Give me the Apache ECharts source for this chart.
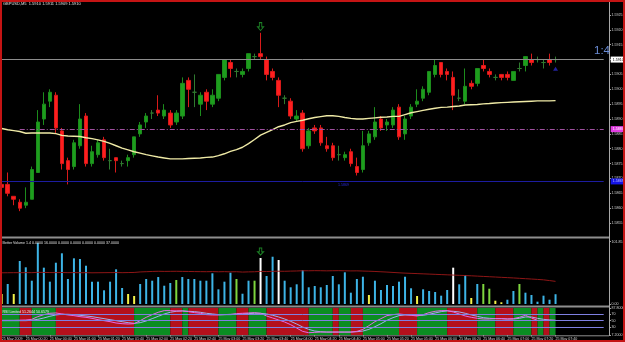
<!DOCTYPE html>
<html><head><meta charset="utf-8">
<script src="https://cdn.jsdelivr.net/npm/echarts@6/dist/echarts.min.js"></script>
<style>html,body{margin:0;padding:0;background:#000;}#c{width:625px;height:342px;}</style>
</head><body><div id="c"></div>
<script>
// ---------- DATA ----------
const openP = [1.5868,1.5868,1.5864,1.5862,1.5861,1.5863,1.5872,1.5890,1.5896,1.5898,
1.5886,1.5876,1.5874,1.5881,1.5891,1.5875,1.5878,1.5883,1.5876,1.5877,
1.5875,1.5876,1.5878,1.5885,1.5889,1.5892,1.5893,1.5891,1.5892,1.5889,
1.5891,1.5903,1.5899,1.5895,1.5899,1.5895,1.5897,1.5904,1.5909,1.5906,
1.5905,1.5907,1.5911,1.5912,1.5910,1.5906,1.5903,1.5897,1.5896,1.5890,
1.5892,1.5881,1.5887,1.5887,1.5881,1.5881,1.5878,1.5877,1.5879,1.5874,
1.5873,1.5882,1.5884,1.5890,1.5888,1.5888,1.5894,1.5885,1.5891,1.5895,
1.5897,1.5899,1.5905,1.5909,1.5906,1.5904,1.5897,1.5896,1.5902,1.5902,
1.5908,1.5906,1.5904,1.5905,1.5905,1.5903,1.5907,1.5908,1.5910,1.5910,
1.5909,1.5910,1.5910];
const closeP = [1.5867,1.5865,1.5863,1.5860,1.5862,1.5873,1.5889,1.5895,1.5899,1.5887,
1.5875,1.5873,1.5882,1.5890,1.5875,1.5879,1.5882,1.5877,1.5876,1.5876,
1.5875,1.5877,1.5884,1.5888,1.5891,1.5892,1.5892,1.5893,1.5888,1.5892,
1.5902,1.5900,1.5899,1.5898,1.5896,1.5898,1.5905,1.5910,1.5907,1.5906,
1.5906,1.5912,1.5911,1.5911,1.5905,1.5904,1.5898,1.5897,1.5891,1.5891,
1.5880,1.5886,1.5886,1.5882,1.5880,1.5877,1.5878,1.5878,1.5875,1.5872,
1.5881,1.5885,1.5889,1.5887,1.5889,1.5893,1.5884,1.5890,1.5894,1.5896,
1.5900,1.5906,1.5908,1.5905,1.5905,1.5898,1.5897,1.5901,1.5901,1.5907,
1.5907,1.5905,1.5904,1.5904,1.5904,1.5906,1.5907,1.5911,1.5909,1.5910,
1.5909,1.5909,1.5910];
const lowP = [1.5866,1.5864,1.5861,1.5859,1.5860,1.5863,1.5872,1.5888,1.5894,1.5885,
1.5873,1.5868,1.5873,1.5880,1.5874,1.5874,1.5877,1.5876,1.5873,1.5872,
1.5874,1.5874,1.5877,1.5884,1.5887,1.5890,1.5891,1.5890,1.5887,1.5888,
1.5890,1.5894,1.5894,1.5891,1.5893,1.5894,1.5896,1.5903,1.5904,1.5904,
1.5904,1.5906,1.5910,1.5910,1.5903,1.5903,1.5894,1.5895,1.5890,1.5889,
1.5879,1.5880,1.5885,1.5881,1.5879,1.5876,1.5876,1.5876,1.5874,1.5871,
1.5872,1.5881,1.5883,1.5886,1.5886,1.5887,1.5883,1.5883,1.5890,1.5894,
1.5896,1.5898,1.5904,1.5904,1.5903,1.5893,1.5896,1.5895,1.5900,1.5901,
1.5906,1.5904,1.5903,1.5903,1.5903,1.5903,1.5906,1.5906,1.5908,1.5909,
1.5907,1.5908,1.5909];
const highP = [1.5869,1.5872,1.5864,1.5863,1.5867,1.5874,1.5893,1.5899,1.5900,1.5899,
1.5887,1.5877,1.5883,1.5895,1.5892,1.5881,1.5883,1.5884,1.5880,1.5877,
1.5876,1.5878,1.5884,1.5889,1.5892,1.5893,1.5898,1.5895,1.5893,1.5893,
1.5904,1.5904,1.5905,1.5899,1.5900,1.5900,1.5905,1.5910,1.5910,1.5907,
1.5907,1.5912,1.5912,1.5919,1.5911,1.5907,1.5904,1.5898,1.5897,1.5893,
1.5893,1.5887,1.5888,1.5888,1.5884,1.5882,1.5881,1.5879,1.5880,1.5877,
1.5886,1.5886,1.5894,1.5891,1.5890,1.5894,1.5895,1.5891,1.5895,1.5900,
1.5901,1.5906,1.5910,1.5909,1.5907,1.5906,1.5900,1.5907,1.5903,1.5907,
1.5910,1.5907,1.5905,1.5905,1.5906,1.5906,1.5909,1.5911,1.5912,1.5911,
1.5910,1.5912,1.5911];
const maLine = [1.58868,1.58864,1.58861,1.58858,1.58852,1.58853,1.58853,1.58853,1.58853,1.58851,
1.58845,1.58843,1.58842,1.58841,1.58837,1.58834,1.58830,1.58825,1.58818,1.58810,
1.58802,1.58796,1.58790,1.58785,1.58780,1.58776,1.58772,1.58769,1.58766,1.58766,
1.58766,1.58767,1.58768,1.58769,1.58771,1.58772,1.58777,1.58783,1.58791,1.58797,
1.58805,1.58817,1.58831,1.58846,1.58855,1.58864,1.58874,1.58880,1.58888,1.58892,
1.58896,1.58901,1.58905,1.58908,1.58911,1.58911,1.58909,1.58905,1.58902,1.58900,
1.58900,1.58902,1.58904,1.58906,1.58907,1.58909,1.58909,1.58915,1.58921,1.58925,
1.58929,1.58933,1.58936,1.58939,1.58940,1.58942,1.58944,1.58947,1.58948,1.58949,
1.58951,1.58952,1.58954,1.58955,1.58956,1.58957,1.58958,1.58959,1.58960,1.58961,
1.58961,1.58961,1.58962];
const volume = [16.4,32.7,16.4,70.3,60,38.1,100,59.4,36.5,67.5,82.9,40.9,74.7,73.6,62.6,36.5,36.5,22.4,36.5,56.7,
26.2,16.4,13.1,32.7,40.9,38.1,44.1,29.9,34.3,39.2,44.1,40.9,40.9,38.1,38.1,
50.2,24,36.5,51.2,40.9,16.8,38.1,38.1,75.2,45.8,77.3,71.9,38.1,27.3,32.2,55.6,27.3,29.4,27.3,31.1,
45.8,32.2,51.8,18.5,40.9,44.6,14.7,38.1,22.9,31.1,29.4,36.5,44.6,
25.7,13.1,24,21.3,19.6,13.6,22.9,59.4,32.2,47.4,9.8,32.7,32.7,25,5.4,2.8,7,21.3,32.7,18.5,14.7,3.8,13.6,7,16];
// N = normal, L = low volume, G = churn, W = climax
const volType = 'LNLNNNNNNNNNNNNNNNNNNLLNNNNNNGNNNNNNNNNGNNGWNNWNNNNNNNNNNNNNNLNNNNNNNLNNNNNWNNLNGGLLNNGNNNNNN'.split('');
const volMA = [51.0,51.1,51.2,51.2,51.3,51.2,51.8,51.6,51.4,51.3,51.5,51.2,51.3,51.1,51.2,51.0,51.1,51.2,51.3,51.4,51.2,51.4,51.6,
52.4,52.8,53.2,53.5,53.3,53.4,53.5,53.3,53.2,53.0,52.9,
52.8,53.0,52.7,52.9,52.6,52.8,52.2,52.5,52.7,53.3,53.1,53.4,53.6,53.5,53.8,54.0,54.4,
54.3,54.5,54.4,54.2,54.4,54.5,54.3,54.1,54.2,53.9,53.6,53.2,52.7,52.2,51.6,51.0,
50.5,50.1,49.7,49.3,48.9,48.5,48.1,47.7,47.3,46.9,46.5,46.1,45.6,45.1,44.6,44.1,43.6,43.1,42.6,42.0,41.4,40.8,40.2,39.5,38.3,37.0];
const rsi = [51,51,51,51.5,52,54,62,68,72,73,70,67,65,62,60,57,53,50,47,43,41,40,41,50,60,68,75,80,80,79,79,77,74,72,68,
67,67,68,69,71,72,73,74,72,64,58,52,46,38,28,18,14,15,16,16,16,16,16,16,18,24,35,47,56,65,68,70,68,
66,64,68,74,78,80,80,76,70,64,60,57,55,55,56,56,55,56,60,66,58,51,50.5,51.5,51.26];
const rsiSignal = [50,50,50,50,50,51,54,58,63,67,69,69,68,66,64,62,59,56,53,50,47,44,42,44,49,56,63,70,75,78,79,78,77,75,72,
70,68,68,68,69,70,71,72,72,70,66,61,55,48,40,31,24,19,17,16,16,16,16,16,17,19,24,32,41,51,59,65,67,
67,66,66,69,73,77,79,78,76,72,67,63,59,57,56,56,55,55,57,61,61,57,54,52,50.66];
// G = green zone, R = red zone behind RSI
const rsiState = 'GGGRRGGGGRRRRRRRRRRRRRGGGGGGRRGRRRRRGGGRRGGGRRRRRRRGGGGRGGRRGGGGGGRRRGGGGGRRRRRGGGRRRGGGRGRGG'.split('');
const priceTicks = [1.5925,1.5920,1.5915,1.5910,1.5905,1.5900,1.5895,1.5890,1.5885,1.5880,1.5875,1.5870,1.5865,1.5860,1.5855];
const volTicks = [0, 101.85];
const rsiTicks = [7.2, 30, 50, 70, 87.8];
const rsiLevels = [70, 50, 30];
const tickLabels = ['25 May 2009','25 May 00:20','25 May 00:40','25 May 01:00','25 May 01:20','25 May 01:40',
'25 May 02:00','25 May 02:20','25 May 02:40','25 May 03:00','25 May 03:20','25 May 03:40',
'25 May 04:00','25 May 04:20','25 May 04:40','25 May 05:00','25 May 05:20','25 May 05:40',
'25 May 06:00','25 May 06:20','25 May 06:40','25 May 07:00','25 May 07:20','25 May 07:40'];
const currentPrice = 1.5910;
const pivotLevel = 1.58866;
const supportLevel = 1.5869;
const sellSignal = {index: 43, price: 1.59211, vol: 85.8};
const buyMark = {index: 92, price: 1.59069};

// ---------- BUILD ----------
const N = 101;
const cats = Array.from({length: N}, (_, i) => String(i));
const candles = openP.map((o, i) => [o, closeP[i], lowP[i], highP[i]]);
const volColors = {N: '#3db4e6', L: '#f2f24a', G: '#7ed63e', W: '#ffffff'};
const volData = volume.map((v, i) => ({value: v, itemStyle: {color: volColors[volType[i]]}}));
const RED = '#b4101c', GREEN = '#0b8d22';
const areas = [];
let s = 0;
for (let i = 1; i <= rsiState.length; i++) {
  if (i === rsiState.length || rsiState[i] !== rsiState[s]) {
    const end = Math.min(i, rsiState.length - 1);
    areas.push([{xAxis: String(s), itemStyle: {color: rsiState[s] === 'G' ? GREEN : RED, opacity: 1}}, {xAxis: String(end)}]);
    s = i;
  }
}

const GL = -1.31, GW = 608.02;
const FONT = 'Liberation Sans';
const lbl = {fontSize: 3.6, color: '#d2d2d2', fontFamily: FONT};
const hiddenX = (gi) => ({type: 'category', gridIndex: gi, data: cats, boundaryGap: true,
  axisLine: {show: false}, axisTick: {show: false}, axisLabel: {show: false}, splitLine: {show: false}});
const yAx = (gi, min, max, ticks, fmt) => ({type: 'value', gridIndex: gi, position: 'right', offset: 2.3,
  min: min, max: max, splitLine: {show: false}, axisLine: {show: false},
  axisTick: {show: true, length: 2, lineStyle: {color: '#a0a0a0'}, customValues: ticks},
  axisLabel: Object.assign({show: true, margin: 2.5, customValues: ticks, formatter: fmt}, lbl)});
const boxLabel = (text, bg, fg, dist) => ({show: true, position: 'end', distance: dist, formatter: text,
  backgroundColor: bg, color: fg, padding: [1, 2], fontSize: 3.6, fontFamily: FONT});
const hLine = (v, fromCat, style, label) => [
  {xAxis: fromCat, yAxis: v, lineStyle: style, label: label},
  {xAxis: String(N - 1), yAxis: v}
];

const Y0MAX = 1.592937, Y0MIN = 1.585064;
const chart = echarts.init(document.getElementById('c'));
chart.setOption({
  backgroundColor: '#000',
  animation: false,
  textStyle: {fontFamily: FONT},
  grid: [
    {left: GL, top: 2, width: GW, height: 234, containLabel: false, outerBoundsMode: 'none'},
    {left: GL, top: 240, width: GW, height: 64, containLabel: false, outerBoundsMode: 'none'},
    {left: GL, top: 308, width: GW, height: 27, containLabel: false, outerBoundsMode: 'none'}
  ],
  xAxis: [hiddenX(0), hiddenX(1), {
    type: 'category', gridIndex: 2, data: cats, boundaryGap: true,
    axisLine: {show: false},
    axisTick: {show: true, length: 1.5, alignWithLabel: true, interval: (i) => i % 4 === 0 && i <= 92, lineStyle: {color: '#a0a0a0'}},
    axisLabel: Object.assign({show: true, margin: 1.8, align: 'left', interval: (i) => i % 4 === 0 && i <= 92,
      formatter: (v, i) => tickLabels[i / 4] || ''}, lbl),
    splitLine: {show: false}
  }],
  yAxis: [
    yAx(0, Y0MIN, Y0MAX, priceTicks, (v) => v.toFixed(4)),
    yAx(1, 0, 104.64, volTicks, (v) => v.toFixed(2)),
    yAx(2, 7.2, 87.8, rsiTicks, (v) => (v === 7.2 || v === 87.8) ? v.toFixed(4) : String(v))
  ],
  graphic: [
    {type: 'line', z: 50, shape: {x1: 609.5, y1: 0, x2: 609.5, y2: 336}, style: {stroke: '#a8a8a8', lineWidth: 1}},
    {type: 'line', z: 50, shape: {x1: 0, y1: 237.5, x2: 609, y2: 237.5}, style: {stroke: '#8e8e8e', lineWidth: 2}},
    {type: 'line', z: 50, shape: {x1: 0, y1: 306.5, x2: 609, y2: 306.5}, style: {stroke: '#8e8e8e', lineWidth: 2}},
    {type: 'line', z: 50, shape: {x1: 0, y1: 335.8, x2: 609, y2: 335.8}, style: {stroke: '#8e8e8e', lineWidth: 1}},
    {type: 'rect', z: 60, shape: {x: 1, y: 1, width: 623, height: 340}, style: {fill: 'none', stroke: '#c41414', lineWidth: 2}},
    {type: 'text', z: 55, left: 3, top: 1.5, style: {text: 'GBPUSD,M5  1.5910 1.5911 1.5909 1.5910', fill: '#e0e0e0', fontSize: 4, fontFamily: FONT}},
    {type: 'text', z: 55, left: 2.5, top: 241, style: {text: 'Better Volume 1.4 0.0000 16.0000 0.0000 0.0000 0.0000 0.0000 37.0000', fill: '#e0e0e0', fontSize: 3.6, fontFamily: FONT}},
    {type: 'text', z: 55, left: 2.5, top: 309.5, style: {text: 'RSI Limited 51.2644 50.6579', fill: '#f0f0f0', fontSize: 3.6, fontFamily: FONT}},
    {type: 'text', z: 55, left: 594, top: 45, style: {text: '1:4', fill: '#6a8cd6', fontSize: 11.5, fontFamily: FONT}},
    {type: 'text', z: 55, left: 338, top: 182.5, style: {text: '1.5869', fill: '#2a2ad8', fontSize: 3.6, fontFamily: FONT}}
  ],
  series: [
    {
      type: 'candlestick', xAxisIndex: 0, yAxisIndex: 0, data: candles, barWidth: 4,
      itemStyle: {color: '#1d9e1d', color0: '#ff1e1e', borderColor: '#1c8c1c', borderColor0: '#d81a1a', borderColorDoji: '#2f7a2f', borderWidth: 1}
    },
    {type: 'line', xAxisIndex: 0, yAxisIndex: 0, data: maLine, symbol: 'none', z: 4,
      lineStyle: {color: '#efeaa6', width: 1.4},
      markLine: {
        silent: true, symbol: ['none', 'none'], animation: false,
        data: [
          hLine(currentPrice, '0', {color: '#8c8c8c', type: 'solid', width: 1}, boxLabel(currentPrice.toFixed(4), '#ffffff', '#000', 7)),
          hLine(pivotLevel, '3', {color: '#a050a0', type: [5, 2, 1, 2], width: 1}, boxLabel('1.5887', '#e23ce2', '#fff', 7)),
          hLine(supportLevel, '0', {color: '#1c1ca0', type: 'solid', width: 1}, boxLabel('1.5869', '#1414e6', '#c8c8ff', 7))
        ]
      }
    },
    {type: 'scatter', xAxisIndex: 0, yAxisIndex: 0, z: 6, data: [[String(sellSignal.index), sellSignal.price]],
      symbol: 'path://M3,0 L7,0 L7,6 L10,6 L5,11 L0,6 L3,6 Z', symbolSize: [6, 8],
      itemStyle: {color: 'rgba(0,0,0,0)', borderColor: '#23a02e', borderWidth: 1}},
    {type: 'scatter', xAxisIndex: 0, yAxisIndex: 0, z: 6, data: [[String(buyMark.index), buyMark.price]],
      symbol: 'triangle', symbolSize: [5, 4], itemStyle: {color: '#2a2ac4'}},
    {type: 'bar', xAxisIndex: 1, yAxisIndex: 1, data: volData, barWidth: 2},
    {type: 'line', xAxisIndex: 1, yAxisIndex: 1, data: volMA, symbol: 'none', z: 4,
      lineStyle: {color: '#8e1616', width: 1}},
    {type: 'scatter', xAxisIndex: 1, yAxisIndex: 1, z: 6, data: [[String(sellSignal.index), sellSignal.vol]],
      symbol: 'path://M3,0 L7,0 L7,6 L10,6 L5,11 L0,6 L3,6 Z', symbolSize: [6, 7],
      itemStyle: {color: 'rgba(0,0,0,0)', borderColor: '#23a02e', borderWidth: 1}},
    {type: 'line', xAxisIndex: 2, yAxisIndex: 2, data: rsi, symbol: 'none', z: 4,
      lineStyle: {color: '#e46ae4', width: 1},
      markArea: {silent: true, label: {show: false}, data: areas}},
    {type: 'line', xAxisIndex: 2, yAxisIndex: 2, data: rsiSignal, symbol: 'none', z: 3,
      lineStyle: {color: '#9fb0ea', width: 1},
      markLine: {silent: true, symbol: ['none', 'none'], label: {show: false},
        lineStyle: {color: '#7f80e2', type: 'solid', width: 1},
        data: rsiLevels.map(v => [{xAxis: '0', yAxis: v}, {xAxis: String(N - 1), yAxis: v}])}}
  ]
});
</script>
</body></html>
